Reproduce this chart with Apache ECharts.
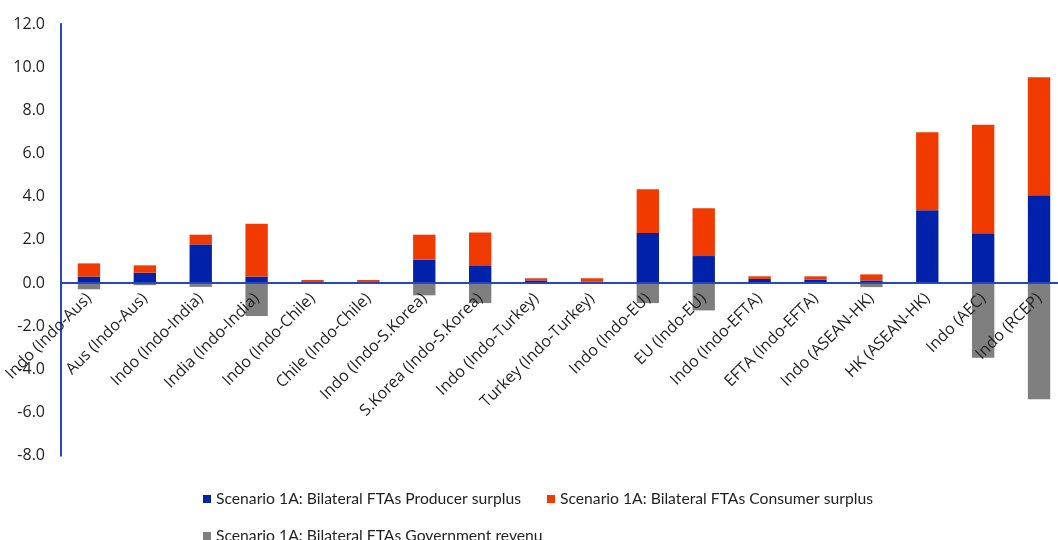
<!DOCTYPE html>
<html>
<head>
<meta charset="utf-8">
<script src="https://cdn.jsdelivr.net/npm/echarts@6/dist/echarts.min.js"></script>
<style>
  html, body { margin: 0; padding: 0; background: #ffffff; }
  #chart { width: 1058px; height: 540px; }
</style>
</head>
<body>
<div id="chart"></div>
<script>
// Welfare effects by country and FTA scenario
const categories = [
  'Indo (Indo-Aus)', 'Aus (Indo-Aus)', 'Indo (Indo-India)', 'India (Indo-India)',
  'Indo (Indo-Chile)', 'Chile (Indo-Chile)', 'Indo (Indo-S.Korea)', 'S.Korea (Indo-S.Korea)',
  'Indo (Indo-Turkey)', 'Turkey (Indo-Turkey)', 'Indo (Indo-EU)', 'EU (Indo-EU)',
  'Indo (Indo-EFTA)', 'EFTA (Indo-EFTA)', 'Indo (ASEAN-HK)', 'HK (ASEAN-HK)',
  'Indo (AEC)', 'Indo (RCEP)'
];

const producerSurplus = [0.30, 0.48, 1.79, 0.30, 0.02, 0.02, 1.08, 0.82, 0.12, 0.07, 2.32, 1.25, 0.19, 0.16, 0.12, 3.37, 2.30, 4.07];
const consumerSurplus = [0.61, 0.34, 0.45, 2.45, 0.12, 0.12, 1.16, 1.52, 0.10, 0.15, 2.03, 2.21, 0.12, 0.15, 0.28, 3.61, 5.03, 5.46];
const governmentRevenue = [-0.29, -0.10, -0.18, -1.53, -0.01, -0.01, -0.57, -0.93, -0.01, -0.01, -0.93, -1.27, -0.01, -0.01, -0.19, 0.00, -3.46, -5.39];

const seriesNames = [
  'Scenario 1A: Bilateral FTAs Producer surplus',
  'Scenario 1A: Bilateral FTAs Consumer surplus',
  'Scenario 1A: Bilateral FTAs Government revenu'
];

const yTicks = { min: -8, max: 12, interval: 2 };

const colors = ['#0022AA', '#F03A00', '#7F7F7F'];
const textColor = '#1f1f1f';
const axisBlue = '#2448C4';

// plot area geometry
const gridTop = 24;
const gridHeight = 431.7;
// distance from the bottom of the plot up to the zero line
const zeroOffset = gridHeight * (0 - yTicks.min) / (yTicks.max - yTicks.min);

const chart = echarts.init(document.getElementById('chart'), null, { renderer: 'canvas' });

const legendText = { fontFamily: 'Lato', fontSize: 15.7, color: textColor };

const barSeries = [producerSurplus, consumerSurplus, governmentRevenue].map((values, i) => ({
  name: seriesNames[i],
  type: 'bar',
  stack: 'welfare',
  barWidth: '40%',
  data: values,
  itemStyle: { color: colors[i] },
  emphasis: { disabled: true }
}));

chart.setOption({
  animation: false,
  color: colors,
  grid: {
    left: 61, right: -9, top: gridTop, height: gridHeight,
    containLabel: false, outerBoundsMode: 'none'
  },
  legend: [
    {
      data: [seriesNames[0], seriesNames[1]],
      left: 198, top: 486,
      itemWidth: 8, itemHeight: 8, itemGap: 26,
      icon: 'rect',
      textStyle: legendText
    },
    {
      data: [seriesNames[2]],
      left: 198, top: 523,
      itemWidth: 8, itemHeight: 8,
      icon: 'rect',
      textStyle: legendText
    }
  ],
  xAxis: {
    type: 'category',
    data: categories,
    z: 10,
    position: 'bottom',
    offset: -zeroOffset,
    axisLine: { onZero: false, lineStyle: { color: axisBlue, width: 2 } },
    axisTick: { show: false },
    axisLabel: {
      interval: 0,
      rotate: 45,
      margin: 13,
      fontFamily: 'Open Sans',
      fontSize: 16,
      color: textColor
    },
    splitLine: { show: false }
  },
  yAxis: {
    type: 'value',
    min: yTicks.min,
    max: yTicks.max,
    interval: yTicks.interval,
    axisLine: { show: true, lineStyle: { color: axisBlue, width: 2 } },
    axisTick: { show: false },
    splitLine: { show: false },
    axisLabel: {
      margin: 16,
      fontFamily: 'Open Sans',
      fontSize: 16,
      color: textColor,
      formatter: v => v.toFixed(1)
    }
  },
  series: barSeries
});
</script>
</body>
</html>
